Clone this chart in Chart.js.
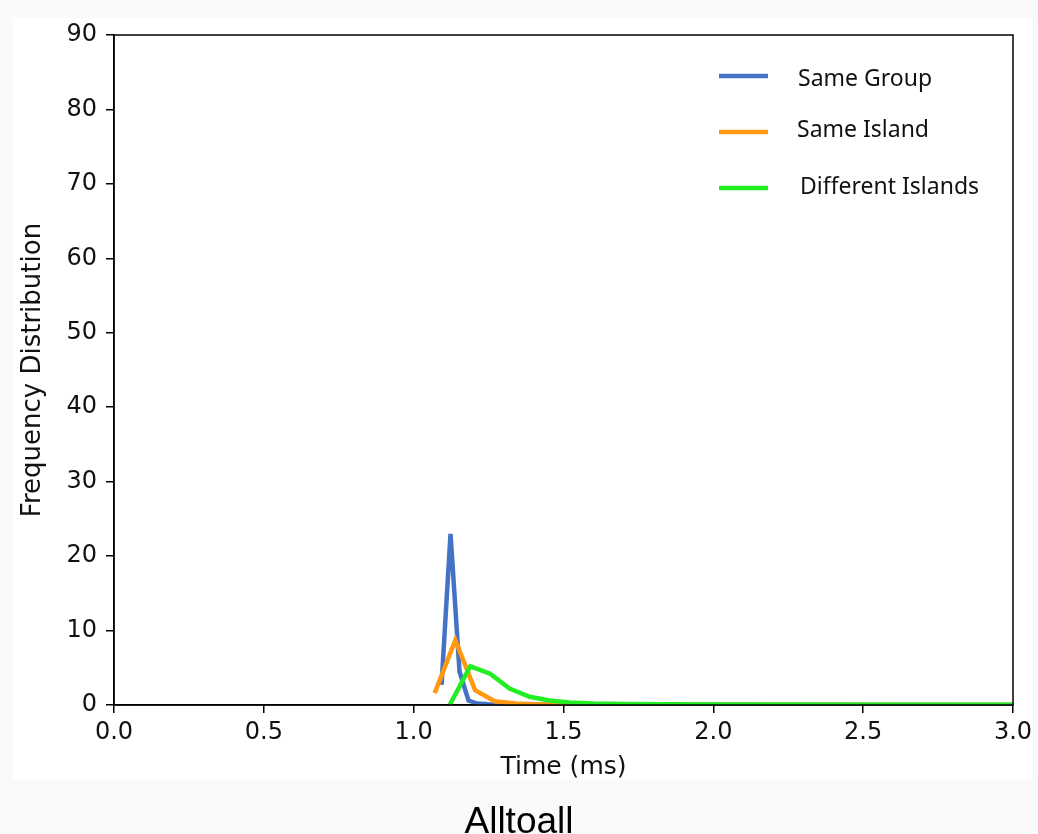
<!DOCTYPE html>
<html>
<head>
<meta charset="utf-8">
<script src="https://cdn.jsdelivr.net/npm/chart.js@4"></script>
<style>
  html, body { margin: 0; padding: 0; background: #fafafa; }
  #sheet { position: absolute; left: 13px; top: 18px; width: 1020px; height: 762px; background: #fff; }
  #wrap { position: absolute; left: 0; top: 0; width: 1038px; height: 834px; }
  #caption { position: absolute; left: 0; width: 1038px; top: 802px; text-align: center;
             font: 37px/37px "Liberation Sans", Arial, sans-serif; color: #000; }
</style>
</head>
<body>
<div id="sheet"></div>
<div id="wrap"><canvas id="chart"></canvas></div>
<div id="caption">Alltoall</div>
<script>
// values
const seriesNames = ['Same Group', 'Same Island', 'Different Islands'];
const seriesColors = ['#4472C4', '#FF9912', '#22EE22'];

const groupX = [1.093, 1.123, 1.153, 1.183, 1.213, 1.25, 1.35, 3.0];
const groupY = [2.7, 23.0, 4.5, 0.6, 0.2, 0.1, 0.02, 0];

const islandX = [1.07, 1.139, 1.205, 1.27, 1.34, 1.41, 1.48, 3.0];
const islandY = [1.6, 8.7, 2.0, 0.5, 0.2, 0.1, 0.05, 0];

const diffX = [1.12, 1.189, 1.255, 1.32, 1.387, 1.453, 1.52, 1.6, 1.7, 2.0, 2.5, 3.0];
const diffY = [0, 5.2, 4.2, 2.2, 1.1, 0.6, 0.35, 0.2, 0.12, 0.08, 0.05, 0.05];

const xTicks = [0, 0.5, 1.0, 1.5, 2.0, 2.5, 3.0];
const yTicks = [0, 10, 20, 30, 40, 50, 60, 70, 80, 90];

function toPoints(xs, ys) {
    return xs.map((x, i) => ({ x: x, y: ys[i] }));
}

// box round the plot + legend drawn inside the axes
const framePlugin = {
    id: 'frame',
    afterDatasetsDraw(chart) {
        const { ctx, chartArea: a } = chart;
        ctx.save();
        ctx.strokeStyle = '#000';
        ctx.lineWidth = 1.5;
        ctx.strokeRect(a.left, a.top, a.right - a.left, a.bottom - a.top);

        const lineYs = [76, 132, 188];
        const textYs = [86, 137, 194];
        const textXs = [798, 797, 800];
        ctx.font = '23px "Noto Sans"';
        ctx.fillStyle = '#111';
        ctx.textBaseline = 'alphabetic';
        chart.data.datasets.forEach((ds, i) => {
            ctx.strokeStyle = ds.borderColor;
            ctx.lineWidth = 4.5;
            ctx.beginPath();
            ctx.moveTo(719, lineYs[i]);
            ctx.lineTo(768, lineYs[i]);
            ctx.stroke();
            ctx.fillText(ds.label, textXs[i], textYs[i]);
        });
        ctx.restore();
    }
};

const allX = [groupX, islandX, diffX];
const allY = [groupY, islandY, diffY];

new Chart(document.getElementById('chart'), {
    type: 'line',
    data: {
        datasets: seriesNames.map((name, i) => ({
            label: name,
            data: toPoints(allX[i], allY[i]),
            borderColor: seriesColors[i],
            backgroundColor: seriesColors[i],
            borderWidth: 4.5,
            pointRadius: 0,
            tension: 0,
            order: 2 - i
        }))
    },
    options: {
        responsive: true,
        maintainAspectRatio: false,
        animation: false,
        layout: { padding: { left: 0, top: 35, right: 25, bottom: 49 } },
        plugins: {
            legend: { display: false },
            tooltip: { enabled: false }
        },
        scales: {
            x: {
                type: 'linear',
                min: 0,
                max: 3,
                afterBuildTicks: s => { s.ticks = xTicks.map(v => ({ value: v })); },
                afterFit: s => { s.height = 80; },
                ticks: {
                    callback: v => v.toFixed(1),
                    color: '#111',
                    font: { family: 'DejaVu Sans', size: 24 },
                    padding: 5,
                    maxRotation: 0
                },
                grid: { display: true, drawOnChartArea: false, drawTicks: true, tickLength: 8, color: '#000', lineWidth: 1.5 },
                border: { display: true, color: '#000', width: 1.5 },
                title: {
                    display: true,
                    text: 'Time (ms)',
                    color: '#111',
                    font: { family: 'DejaVu Sans', size: 25 },
                    padding: { top: 0, bottom: 3 }
                }
            },
            y: {
                min: 0,
                max: 90,
                afterBuildTicks: s => { s.ticks = yTicks.map(v => ({ value: v })); },
                afterFit: s => { s.width = 114; },
                ticks: {
                    color: '#111',
                    font: { family: 'DejaVu Sans', size: 24 },
                    padding: 9
                },
                grid: { display: true, drawOnChartArea: false, drawTicks: true, tickLength: 8, color: '#000', lineWidth: 1.5 },
                border: { display: true, color: '#000', width: 1.5 },
                title: {
                    display: true,
                    text: 'Frequency Distribution',
                    color: '#111',
                    font: { family: 'DejaVu Sans', size: 26 },
                    padding: { top: 18, bottom: 0 }
                }
            }
        }
    },
    plugins: [framePlugin]
});
</script>
</body>
</html>
